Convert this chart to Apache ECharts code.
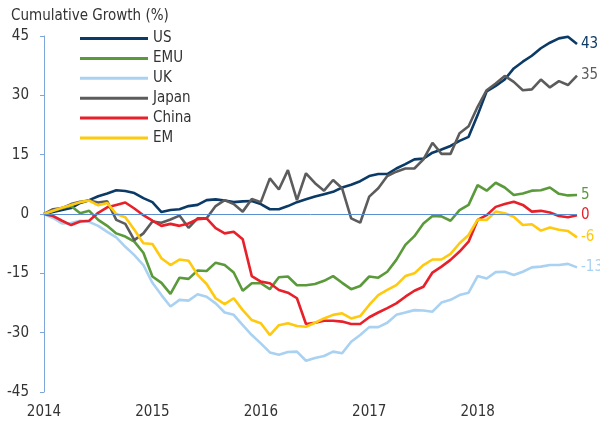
<!DOCTYPE html>
<html>
<head>
<meta charset="utf-8">
<script src="https://cdn.jsdelivr.net/npm/echarts@6/dist/echarts.min.js"></script>
<style>
  html, body { margin: 0; padding: 0; background: #fff; }
  #chart { width: 600px; height: 424px; }
</style>
</head>
<body>
<div id="chart"></div>
<script>
const chartDom = document.getElementById('chart');
const myChart = echarts.init(chartDom);

const FONT = '"Liberation Sans Narrow", "DejaVu Sans Condensed", sans-serif';

// monthly, Jan 2014 .. Dec 2018
const months = [];
for (let y = 2014; y <= 2018; y++) {
    for (let m = 1; m <= 12; m++) {
        months.push(y + '-' + (m < 10 ? '0' + m : m));
    }
}

const yTicks = [-45, -30, -15, 0, 15, 30, 45];

const us = [0, 0.5, 1, 1.5, 2.8, 3.5, 4.5, 5.2, 6, 5.8, 5.3, 4, 3, 0.5, 1, 1.2, 2, 2.3, 3.5, 3.7,
    3.4, 3, 3.2, 3.3, 2.5, 1.2, 1.2, 2, 3, 3.7, 4.4, 5, 5.6, 6.7, 7.4, 8.3, 9.6, 10.1, 10.1, 11.5,
    12.6, 13.8, 14, 15.5, 16.3, 17.2, 18.5, 19.5, 25, 31, 32.4, 34, 36.8, 38.5, 40, 41.9, 43.3, 44.4, 44.8, 43];
const emu = [0, 0.8, 1.5, 2, 0.2, 0.8, -1.5, -3, -4.9, -5.7, -7, -9.8, -15.8, -17.4, -20.2, -16.1, -16.4, -14.3, -14.4, -12.3,
    -12.9, -14.8, -19.4, -17.5, -17.5, -19, -16, -15.8, -18, -18, -17.7, -16.9, -15.7, -17.4, -19, -18.2, -15.8, -16.1, -14.6, -11.6,
    -7.8, -5.6, -2.4, -0.5, -0.6, -1.7, 1, 2.3, 7.3, 5.9, 7.9, 6.7, 4.8, 5.2, 5.9, 6, 6.7, 5.1, 4.7, 4.8];
const uk = [0, -1, -2.4, -2.3, -1.7, -2, -3, -4.5, -5.9, -8.3, -10.4, -12.9, -17.4, -20.5, -23.4, -21.7, -21.9, -20.3, -20.9, -22.6,
    -24.9, -25.5, -28.1, -30.6, -32.7, -35, -35.6, -34.9, -34.8, -37.1, -36.4, -35.9, -34.8, -35.2, -32.3, -30.6, -28.6, -28.6, -27.5, -25.5,
    -24.9, -24.3, -24.4, -24.7, -22.4, -21.7, -20.5, -19.9, -15.7, -16.3, -14.7, -14.6, -15.4, -14.6, -13.5, -13.3, -12.9, -12.9, -12.6, -13.5];
const japan = [0, 1.2, 1.5, 2.5, 3.1, 3.4, 2.9, 3.2, -1.5, -2.5, -6.6, -4.9, -1.9, -2.2, -1.4, -0.4, -3.5, -1.1, -1.1, 2,
    3.5, 2.5, 0.6, 3.8, 3, 9, 6.2, 11.1, 3.5, 10.3, 7.8, 5.9, 8.6, 6.5, -1.1, -2.2, 4.4, 6.5, 9.6, 10.7,
    11.5, 11.5, 13.8, 18, 15.2, 15.2, 20.4, 22.2, 27.1, 31.3, 33, 34.9, 33.4, 31.3, 31.5, 34, 32, 33.6, 32.6, 35];
const china = [0, -0.5, -1.7, -2.8, -1.9, -1.7, 0.3, 1.7, 2.3, 2.9, 1.4, -0.3, -1.7, -3, -2.5, -3, -2.4, -1.3, -1.1, -3.6,
    -4.9, -4.5, -6.4, -15.7, -17.1, -17.5, -19.2, -19.9, -21.3, -27.8, -27.5, -27, -27, -27.2, -27.8, -27.8, -26.1, -24.9, -23.8, -22.6,
    -20.9, -19.4, -18.4, -14.8, -13.3, -11.6, -9.5, -7, -1.5, -0.3, 1.8, 2.5, 3.1, 2.3, 0.6, 0.8, 0.4, -0.5, -0.8, -0.3];
const em = [0, 0.8, 1.6, 2.3, 3, 3.4, 2.2, 2.8, 0, -0.8, -4, -7.4, -7.6, -11.2, -12.9, -11.5, -11.8, -15.4, -17.7, -21.3,
    -22.8, -21.3, -24.3, -26.8, -27.6, -30.6, -28.1, -27.6, -28.3, -28.5, -27.5, -26.4, -25.5, -25.1, -26.4, -25.8, -23, -20.5, -19.2, -18,
    -15.7, -15, -12.9, -11.5, -11.5, -10.1, -7.4, -5.3, -1.4, -1.5, 0.6, 0.2, -0.7, -2.8, -2.6, -4.2, -3.4, -4, -4.3, -5.9];

const seriesNames = ['US', 'EMU', 'UK', 'Japan', 'China', 'EM'];
const seriesValues = [us, emu, uk, japan, china, em];
const seriesColors = ['#0b3a66', '#5a9a3a', '#a9d1f2', '#5c5c5c', '#e8202a', '#ffc90e'];

function makeSeries(i) {
    const s = {
        name: seriesNames[i],
        type: 'line',
        data: seriesValues[i],
        symbol: 'none',
        smooth: false,
        color: seriesColors[i],
        lineStyle: { width: 2.6, color: seriesColors[i] },
        endLabel: {
            show: true,
            distance: 4,
            color: seriesColors[i],
            fontFamily: FONT,
            fontSize: 15,
            formatter: function (p) {
                return String(Math.round(p.value) || 0);
            }
        }
    };
    if (i === 0) {
        s.markLine = {
            silent: true,
            symbol: 'none',
            label: { show: false },
            lineStyle: { color: '#5b8fd0', width: 1, type: 'solid' },
            data: [{ yAxis: 0 }]
        };
    }
    return s;
}

const option = {
    animation: false,
    backgroundColor: '#fff',
    textStyle: { fontFamily: FONT },
    title: {
        text: 'Cumulative Growth (%)',
        left: 6,
        top: 4,
        textStyle: { fontFamily: FONT, fontSize: 15, fontWeight: 'normal', color: '#333' }
    },
    legend: {
        orient: 'vertical',
        left: 75,
        top: 26,
        icon: 'path://M0,0 L68,0 L68,3 L0,3 Z',
        itemWidth: 68,
        itemHeight: 3,
        itemGap: 4.9,
        data: seriesNames,
        textStyle: { fontFamily: FONT, fontSize: 15, color: '#333', lineHeight: 14 }
    },
    grid: { left: 44, right: 23, top: 36, bottom: 32 },
    xAxis: {
        type: 'category',
        data: months,
        boundaryGap: false,
        axisLine: { show: false },
        axisTick: { show: false },
        axisLabel: {
            interval: function (i) { return i % 12 === 0; },
            formatter: function (v) { return v.slice(0, 4); },
            margin: 13,
            fontFamily: FONT,
            fontSize: 15,
            color: '#333'
        },
        splitLine: { show: false }
    },
    yAxis: {
        type: 'value',
        min: yTicks[0],
        max: yTicks[yTicks.length - 1],
        interval: 15,
        axisLine: { show: true, lineStyle: { color: '#7ea6d8', width: 1 } },
        axisTick: { show: true, length: 4, lineStyle: { color: '#7ea6d8' } },
        axisLabel: { margin: 15, fontFamily: FONT, fontSize: 15, color: '#333' },
        splitLine: { show: false }
    },
    series: seriesNames.map(function (n, i) { return makeSeries(i); })
};

myChart.setOption(option);
</script>
</body>
</html>
